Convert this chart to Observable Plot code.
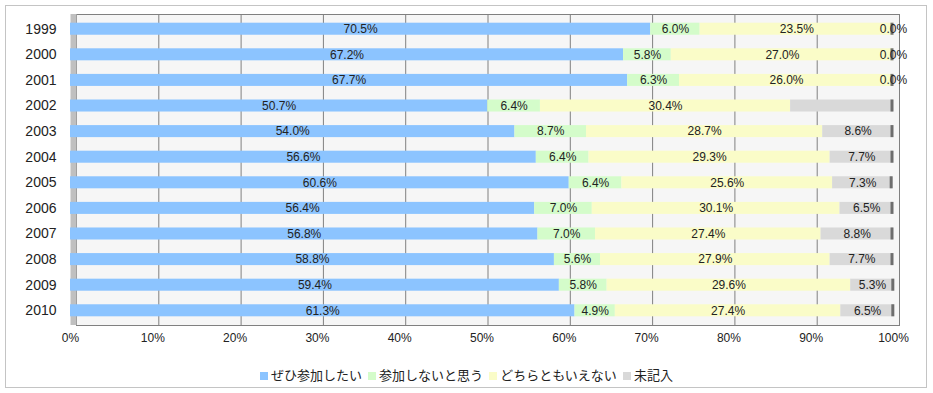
<!DOCTYPE html>
<html><head><meta charset="utf-8">
<script src="https://cdn.jsdelivr.net/npm/d3@7"></script>
<script src="https://cdn.jsdelivr.net/npm/@observablehq/plot@0.6"></script>
<style>
body{margin:0;background:#fff;font-family:"Liberation Sans",Arial,sans-serif}
#box{position:absolute;left:5px;top:5px;width:920px;height:381px;border:1px solid #c4c4c4}
#chart{position:absolute;left:0;top:0}
#legend{position:absolute;left:0;top:366px;width:933px;text-align:center;font-family:"Noto Sans CJK JP",sans-serif;font-size:13px;color:#222;line-height:18px}
#legend span.sw{display:inline-block;width:8px;height:8px;margin-right:3px;vertical-align:0px}
#legend span.it{margin:0 3px}
</style></head><body>
<div id="box"></div><div id="chart"></div><div id="legend"></div>
<script>
const years = ["1999","2000","2001","2002","2003","2004","2005","2006","2007","2008","2009","2010"];
const seriesNames = ["ぜひ参加したい","参加しないと思う","どちらともいえない","未記入"];
const colors = ["#8cc4ff","#d4fcca","#fafcc8","#d9d9d9"];
const want    = [70.5,67.2,67.7,50.7,54.0,56.6,60.6,56.4,56.8,58.8,59.4,61.3];
const notJoin = [6.0,5.8,6.3,6.4,8.7,6.4,6.4,7.0,7.0,5.6,5.8,4.9];
const neutral = [23.5,27.0,26.0,30.4,28.7,29.3,25.6,30.1,27.4,27.9,29.6,27.4];
const blank   = [0.0,0.0,0.0,12.5,8.6,7.7,7.3,6.5,8.8,7.7,5.3,6.5];
const blankShown = [true,true,true,false,true,true,true,true,true,true,true,true];
const xTicks = [0,10,20,30,40,50,60,70,80,90,100];

const seriesVals = [want, notJoin, neutral, blank];
const data = [];
years.forEach((y, i) => {
  seriesVals.forEach((vals, s) => {
    const show = s < 3 || blankShown[i];
    data.push({year: y, series: seriesNames[s], order: s, value: vals[i], label: show ? vals[i].toFixed(1) + "%" : ""});
  });
});
const totals = years.map((y, i) => ({year: y, total: seriesVals.reduce((a, v) => a + v[i], 0)}));

const chart = Plot.plot({
  width: 933,
  height: 355,
  marginLeft: 70,
  marginRight: 40,
  marginTop: 14,
  marginBottom: 30,
  style: {fontFamily: "'Liberation Sans', Arial, sans-serif", fontSize: "12px", color: "#222", background: "transparent"},
  x: {domain: [0, 100], ticks: xTicks, tickFormat: d => d + "%", tickSize: 0, tickPadding: 8, label: null},
  y: {domain: years, paddingInner: 0.53, paddingOuter: 0.34, round: false, tickSize: 0, tickPadding: 14, label: null},
  color: {domain: seriesNames, range: colors},
  marks: [
    Plot.frame({fill: "#f6f6f6", stroke: "#808080", dx: 6}),
    Plot.ruleX(xTicks.slice(1, -1), {stroke: "#808080", dx: 6}),
    Plot.ruleX([0], {stroke: "#c0c0c0", strokeWidth: 6, dx: 3}),
    Plot.barX(data, Plot.stackX({x: "value", y: "year", fill: "series", order: "order", z: "series", inset: 0})),
    Plot.tickX(totals, {x: "total", y: "year", stroke: "#6e6e6e", strokeWidth: 3, dx: -1.5}),
    Plot.text(data, Plot.stackX({x: "value", y: "year", z: "series", order: "order", text: "label", fill: "#222", fontSize: 12})),
    Plot.axisY({tickSize: 0, tickPadding: 14, fontSize: 14, style: "letter-spacing:1px"})
  ]
});
chart.querySelectorAll('[aria-label="y-axis tick label"] text').forEach(t => t.setAttribute("font-size", "14"));
document.getElementById("chart").appendChild(chart);

const legend = document.getElementById("legend");
seriesNames.forEach((n, i) => {
  const it = document.createElement("span");
  it.className = "it";
  it.innerHTML = `<span class="sw" style="background:${colors[i]}"></span>${n}`;
  legend.appendChild(it);
});
</script>
</body></html>
